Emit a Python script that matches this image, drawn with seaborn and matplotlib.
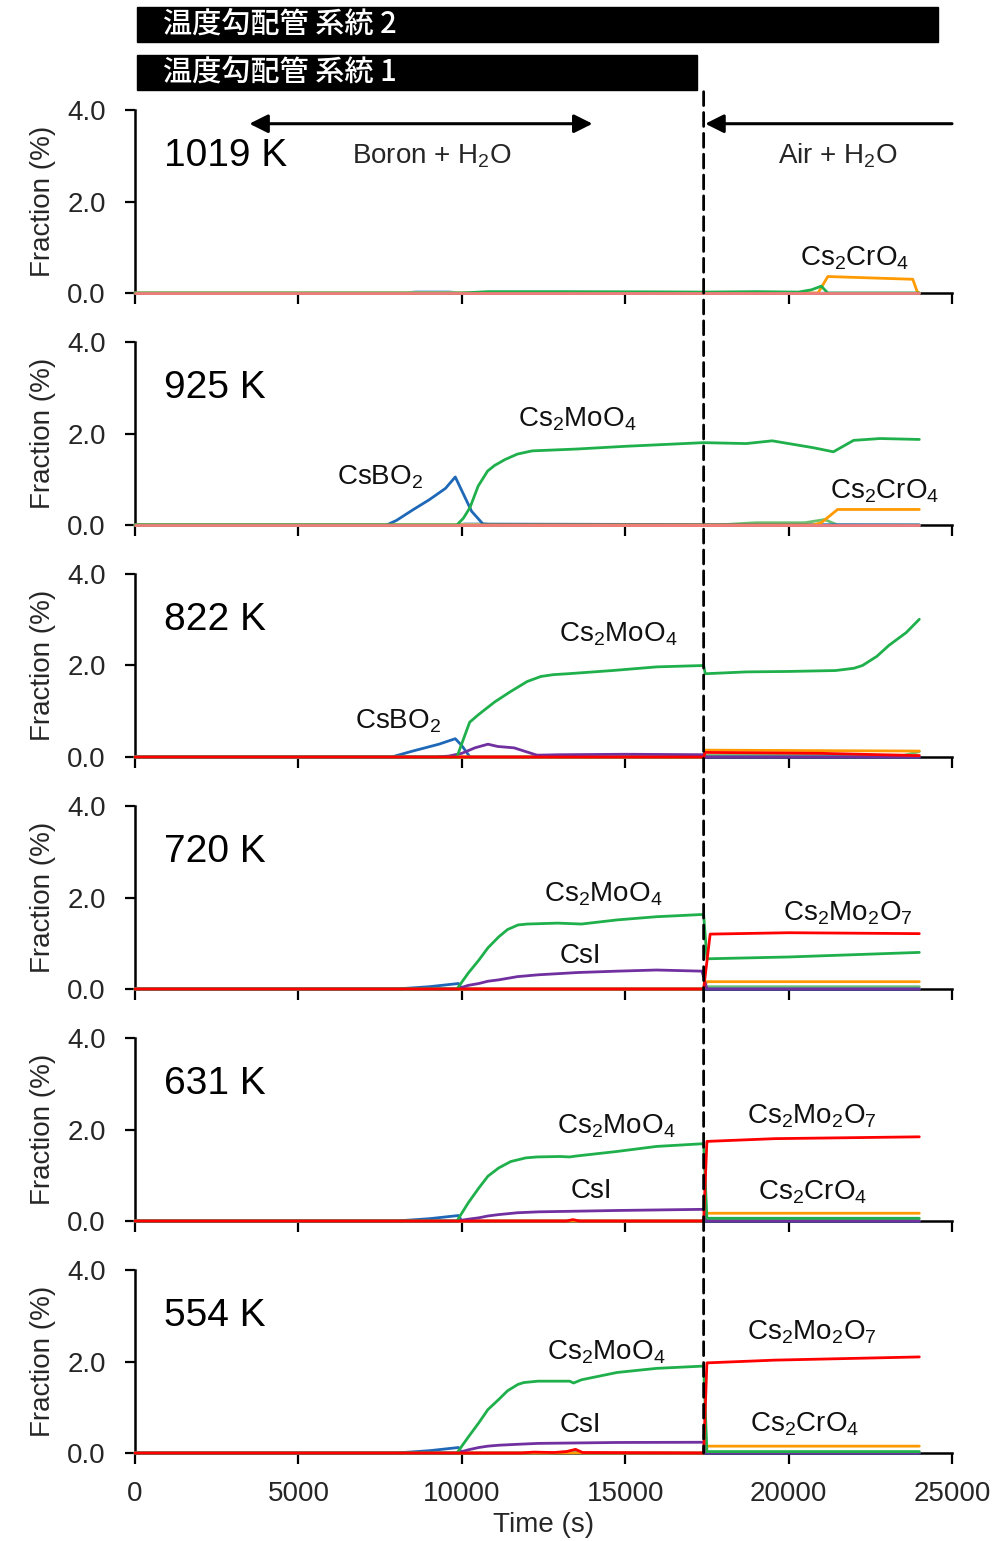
import matplotlib
matplotlib.use("Agg")
import matplotlib.pyplot as plt
import numpy as np
import pandas as pd
import seaborn as sns
from matplotlib.patches import Rectangle, ConnectionPatch

# ---------------- data ----------------
TEMPS = ["1019 K", "925 K", "822 K", "720 K", "631 K", "554 K"]
T_SWITCH = 17400
X_TICKS = [0, 5000, 10000, 15000, 20000, 25000]
Y_TICKS = [0.0, 2.0, 4.0]

HUE_ORDER = ["tan", "CsOH", "minor", "CsBO2", "Cs2CrO4", "CsI", "Cs2MoO4", "Cs2Mo2O7"]
PALETTE = {"tan": "#cbb685", "CsOH": "#9dc3e6", "minor": "#6cc070",
           "CsBO2": "#1f68b8", "Cs2CrO4": "#ff9a00", "CsI": "#7030a0",
           "Cs2MoO4": "#1fb04c", "Cs2Mo2O7": "#ff0000"}
BASELINE_PINK = "#f07d7d"

p1019 = {
    "CsOH": ([0, 8300, 8600, 9600, 9900, 24000], [0, 0, 0.03, 0.03, 0, 0]),
    "Cs2MoO4": ([0, 10000, 10800, 13000, 16000, 17400, 19000, 20300, 20700, 21000, 21200, 24000],
                [0, 0, 0.03, 0.03, 0.025, 0.02, 0.03, 0.02, 0.07, 0.15, 0, 0]),
    "Cs2CrO4": ([0, 20900, 21200, 23800, 23950, 24000], [0, 0, 0.36, 0.30, 0, 0]),
    "Cs2Mo2O7": ([0, 24000], [0, 0]),
}
p925 = {
    "CsBO2": ([0, 7700, 8000, 8500, 9000, 9500, 9800, 10000, 10300, 10650, 24000],
              [0, 0, 0.1, 0.33, 0.55, 0.8, 1.05, 0.75, 0.3, 0.02, 0]),
    "CsOH": ([0, 9900, 10100, 10700, 10900, 24000], [0, 0, 0.03, 0.03, 0, 0]),
    "Cs2MoO4": ([0, 9850, 10050, 10250, 10500, 10790, 11000, 11320, 11700, 12150, 13500, 15000,
                 16500, 17400, 18700, 19500, 20750, 21370, 21990, 22800, 24000],
                [0, 0, 0.15, 0.38, 0.85, 1.18, 1.3, 1.43, 1.55, 1.62, 1.66, 1.72,
                 1.77, 1.80, 1.78, 1.84, 1.69, 1.60, 1.85, 1.89, 1.87]),
    "minor": ([0, 17800, 19000, 20500, 21100, 21500, 24000], [0, 0, 0.05, 0.05, 0.12, 0, 0]),
    "Cs2CrO4": ([0, 20750, 21000, 21500, 24000], [0, 0, 0.05, 0.34, 0.34]),
    "Cs2Mo2O7": ([0, 24000], [0, 0]),
}
p822 = {
    "CsBO2": ([0, 7850, 8500, 9300, 9800, 10000, 10250, 24000],
              [0, 0, 0.13, 0.28, 0.40, 0.25, 0, 0]),
    "CsI": ([0, 9200, 9600, 10000, 10400, 10800, 11100, 11600, 12300, 13000, 15000, 17400, 17450, 24000],
            [0, 0, 0.02, 0.08, 0.2, 0.28, 0.23, 0.2, 0.04, 0.05, 0.06, 0.05, 0, 0]),
    "Cs2MoO4": ([0, 9850, 10240, 10500, 11000, 11470, 12000, 12420, 12800, 13250, 14610, 15970,
                 17400, 17450, 18700, 20000, 21440, 22000, 22260, 22700, 23070, 23600, 24000],
                [0, 0, 0.76, 0.92, 1.2, 1.42, 1.65, 1.76, 1.8, 1.82, 1.89, 1.97,
                 2.0, 1.82, 1.86, 1.87, 1.89, 1.94, 2.0, 2.2, 2.44, 2.72, 3.01]),
    "minor": ([0, 17400, 17450, 23500, 24000], [0, 0, 0.03, 0.03, 0.12]),
    "Cs2CrO4": ([0, 17400, 17450, 24000], [0, 0, 0.15, 0.13]),
    "tan": ([0, 17400, 17450, 24000], [0, 0, 0.04, 0.04]),
    "Cs2Mo2O7": ([0, 17400, 17450, 21000, 24000], [0, 0, 0.10, 0.08, 0.03]),
}
p720 = {
    "CsBO2": ([0, 8000, 9000, 9900, 10000, 24000], [0, 0, 0.05, 0.12, 0, 0]),
    "Cs2MoO4": ([0, 9850, 10200, 10520, 10800, 11130, 11400, 11720, 12000, 12940, 13660, 14750,
                 15960, 17400, 17500, 20000, 24000],
                [0, 0, 0.35, 0.63, 0.9, 1.14, 1.3, 1.40, 1.42, 1.44, 1.42, 1.51,
                 1.58, 1.63, 0.66, 0.70, 0.80]),
    "CsI": ([0, 9850, 10200, 10520, 10800, 11130, 11700, 12330, 13540, 14750, 15960, 17350, 17500, 24000],
            [0, 0, 0.08, 0.12, 0.17, 0.20, 0.27, 0.31, 0.36, 0.39, 0.415, 0.39, 0, 0]),
    "Cs2Mo2O7": ([0, 17400, 17600, 20000, 24000], [0, 0, 1.20, 1.23, 1.21]),
    "Cs2CrO4": ([0, 17400, 17500, 24000], [0, 0, 0.16, 0.16]),
    "minor": ([0, 17400, 17500, 24000], [0, 0, 0.05, 0.05]),
    "tan": ([0, 17400, 17500, 24000], [0, 0, 0.02, 0.02]),
}
p631 = {
    "CsBO2": ([0, 8000, 9000, 9900, 10000, 24000], [0, 0, 0.05, 0.12, 0, 0]),
    "Cs2MoO4": ([0, 9850, 10200, 10520, 10800, 11130, 11500, 11960, 12300, 13000, 13300, 13500,
                 14750, 15960, 17400, 17500, 24000],
                [0, 0, 0.4, 0.72, 0.98, 1.16, 1.30, 1.38, 1.40, 1.41, 1.40, 1.42,
                 1.52, 1.63, 1.69, 0.06, 0.06]),
    "CsI": ([0, 9850, 10200, 10520, 10800, 11130, 11700, 12330, 14750, 17400, 17500, 24000],
            [0, 0, 0.04, 0.07, 0.11, 0.14, 0.18, 0.20, 0.23, 0.255, 0, 0]),
    "Cs2Mo2O7": ([0, 13200, 13400, 13600, 17400, 17500, 19580, 24000],
                 [0, 0, 0.03, 0, 0, 1.74, 1.80, 1.84]),
    "Cs2CrO4": ([0, 17400, 17500, 24000], [0, 0, 0.17, 0.17]),
    "tan": ([0, 17400, 17500, 24000], [0, 0, 0.02, 0.02]),
}
p554 = {
    "CsBO2": ([0, 8000, 9000, 9900, 10000, 24000], [0, 0, 0.05, 0.12, 0, 0]),
    "Cs2MoO4": ([0, 9850, 10200, 10520, 10800, 11130, 11400, 11720, 11900, 12330, 13300, 13420,
                 13660, 14750, 15960, 17400, 17500, 24000],
                [0, 0, 0.35, 0.66, 0.95, 1.17, 1.36, 1.50, 1.54, 1.57, 1.57, 1.53,
                 1.60, 1.76, 1.85, 1.90, 0.03, 0.03]),
    "CsI": ([0, 9850, 10200, 10520, 10800, 11130, 11700, 12330, 14750, 17400, 17500, 24000],
            [0, 0, 0.07, 0.12, 0.15, 0.17, 0.19, 0.21, 0.23, 0.235, 0, 0]),
    "Cs2Mo2O7": ([0, 11800, 12200, 12800, 13200, 13480, 13700, 17400, 17500, 19580, 24000],
                 [0, 0, 0.02, 0.01, 0.03, 0.08, 0.01, 0, 1.97, 2.03, 2.10]),
    "Cs2CrO4": ([0, 17400, 17500, 24000], [0, 0, 0.15, 0.15]),
    "tan": ([0, 12800, 13400, 13700, 17400, 17500, 24000], [0, 0, 0.05, 0, 0, 0.02, 0.02]),
}
PANELS = [p1019, p925, p822, p720, p631, p554]

# annotation labels per panel: (text, t, y)
LABELS = [
    [(r"Cs$_2$CrO$_4$", 22030, 0.77)],
    [(r"Cs$_2$MoO$_4$", 13525, 2.32), (r"CsBO$_2$", 7500, 1.05), (r"Cs$_2$CrO$_4$", 22950, 0.74)],
    [(r"Cs$_2$MoO$_4$", 14780, 2.69), (r"CsBO$_2$", 8050, 0.79)],
    [(r"Cs$_2$MoO$_4$", 14320, 2.08), ("CsI", 13620, 0.72), (r"Cs$_2$Mo$_2$O$_7$", 21820, 1.66)],
    [(r"Cs$_2$MoO$_4$", 14720, 2.08), ("CsI", 13980, 0.66), (r"Cs$_2$Mo$_2$O$_7$", 20720, 2.28),
     (r"Cs$_2$CrO$_4$", 20720, 0.63)],
    [(r"Cs$_2$MoO$_4$", 14410, 2.21), ("CsI", 13620, 0.61), (r"Cs$_2$Mo$_2$O$_7$", 20720, 2.64),
     (r"Cs$_2$CrO$_4$", 20500, 0.63)],
]
BAR_TEXTS = ["温度勾配管 系統 2", "温度勾配管 系統 1"]

# ---------------- style ----------------
sns.set_theme(style="ticks")
plt.rcParams["font.family"] = ["Liberation Sans", "DejaVu Sans"]
plt.rcParams["mathtext.default"] = "regular"
plt.rcParams["axes.linewidth"] = 1.8

fig = plt.figure(figsize=(10.01, 15.41), dpi=100)
W, H = 1001.0, 1541.0
left = 135 / W
width = 817 / W
axes = []
for i in range(6):
    top_px = 110 + 232 * i
    ax = fig.add_axes([left, 1 - (top_px + 183) / H, width, 183 / H])
    axes.append(ax)

for i, (ax, pdata, temp) in enumerate(zip(axes, PANELS, TEMPS)):
    rows = []
    for sp, (ts, ys) in pdata.items():
        for t, y in zip(ts, ys):
            rows.append((sp, t, y))
    df = pd.DataFrame(rows, columns=["species", "time", "fraction"])
    order = [s for s in HUE_ORDER if s in pdata]
    pal = dict(PALETTE)
    if i < 2:
        pal["Cs2Mo2O7"] = BASELINE_PINK
    sns.lineplot(data=df, x="time", y="fraction", hue="species", hue_order=order,
                 palette=pal, estimator=None, sort=False, legend=False,
                 linewidth=2.0, ax=ax)
    for ln in ax.get_lines():
        ln.set_clip_on(False)
        ln.set_zorder(3)
        ln.set_solid_joinstyle("round")
    ax.set_xlim(0, 25000)
    ax.set_ylim(0, 4.0)
    ax.set_xticks(X_TICKS)
    ax.set_yticks(Y_TICKS)
    ax.set_yticklabels([f"{v:.1f}" for v in Y_TICKS])
    sns.despine(ax=ax)
    ax.spines["left"].set_color("black")
    ax.spines["bottom"].set_color("black")
    ax.tick_params(axis="x", direction="out", length=8, width=1.6, color="black",
                   labelsize=20, pad=12)
    ax.tick_params(axis="y", direction="out", length=7, width=1.6, color="black",
                   labelsize=20, pad=14)
    if i < 5:
        ax.tick_params(axis="x", labelbottom=False)
        ax.set_xlabel("")
    else:
        ax.set_xlabel("Time (s)", fontsize=20, labelpad=4)
    ax.set_ylabel("Fraction (%)", fontsize=20, labelpad=8)
    ax.text(900, 3.0, temp, fontsize=28, ha="left", va="center", color="black")
    for txt, tx, ty in LABELS[i]:
        ax.text(tx, ty, txt, fontsize=20, ha="center", va="center", color="#111111")

# arrows and gas labels in the top panel
ax0 = axes[0]
ax0.annotate("", xy=(3500, 3.7), xytext=(14000, 3.7),
             arrowprops=dict(arrowstyle="<|-|>", lw=2.2, color="black", mutation_scale=28,
                             shrinkA=0, shrinkB=0), annotation_clip=False)
ax0.annotate("", xy=(T_SWITCH + 50, 3.7), xytext=(25000, 3.7),
             arrowprops=dict(arrowstyle="-|>", lw=2.2, color="black", mutation_scale=28,
                             shrinkA=0, shrinkB=0), annotation_clip=False)
ax0.text(9100, 3.0, r"Boron + H$_2$O", fontsize=20, ha="center", va="center")
ax0.text(21500, 3.0, r"Air + H$_2$O", fontsize=20, ha="center", va="center")

# dashed switch line through all panels
con = ConnectionPatch(xyA=(T_SWITCH, 4.4), coordsA=axes[0].transData,
                      xyB=(T_SWITCH, 0), coordsB=axes[5].transData,
                      color="black", lw=2.0, linestyle=(0, (5, 2.5)), zorder=10)
fig.add_artist(con)

# black header bars
bars = [(137, 938, 7, 42), (137, 697, 55, 90)]
for (x0, x1, y0, y1), txt in zip(bars, BAR_TEXTS):
    fig.add_artist(Rectangle((x0 / W, 1 - y1 / H), (x1 - x0) / W, (y1 - y0) / H,
                             transform=fig.transFigure, facecolor="black",
                             edgecolor="black"))
    fig.text(163 / W, 1 - ((y0 + y1) / 2) / H, txt, color="white", fontsize=21,
             fontweight="medium", ha="left", va="center",
             family=["Noto Sans CJK JP", "DejaVu Sans"])

fig.savefig("out.png", dpi=100)
